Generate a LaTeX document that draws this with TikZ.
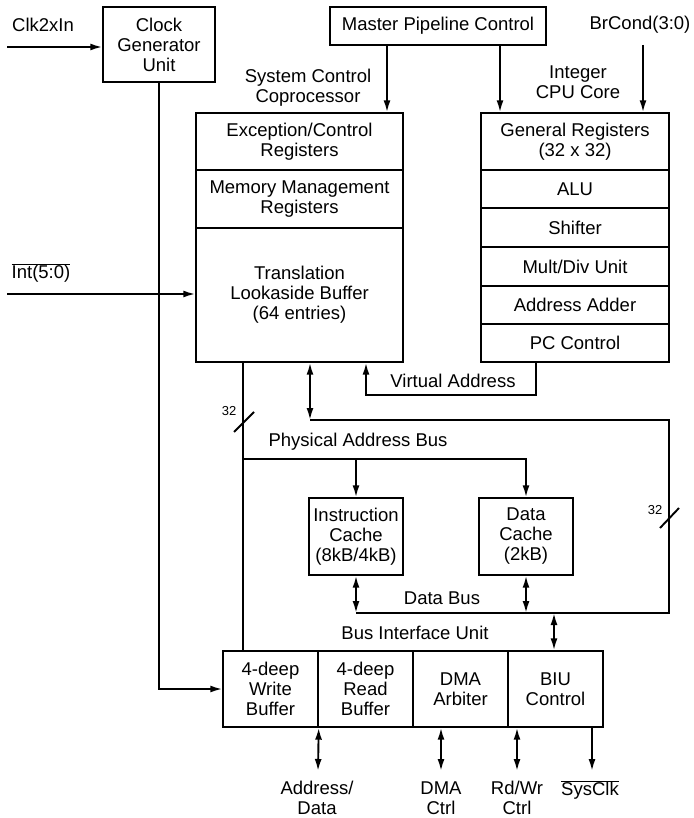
\documentclass[tikz,border=0pt]{standalone}
\usepackage{fontspec}
\setmainfont{Liberation Sans}
\usetikzlibrary{arrows.meta}
\newcommand\diagfont{\fontsize{18.5}{20}\selectfont}
\newcommand\smallfont{\fontsize{13}{14}\selectfont}
\begin{document}
\begin{tikzpicture}[x=1pt,y=-1pt,
  box/.style={draw, line width=1.4pt, inner sep=0pt, align=center, font=\diagfont},
  lbl/.style={align=center, font=\diagfont, inner sep=0pt},
  wire/.style={line width=1.9pt},
  arr/.style={wire, -{Latex[length=12pt,width=7pt]}},
  bidir/.style={wire, {Latex[length=12pt,width=7pt]}-{Latex[length=12pt,width=7pt]}}]
\useasboundingbox (0,0) rectangle (693,818);
% boxes
\node[box, minimum width=112pt, minimum height=75pt] (clk) at (159,44.5) {Clock\\Generator\\Unit};
\node[box, minimum width=216pt, minimum height=38pt] (mpc) at (438,26) {Master Pipeline Control};
% system control coprocessor
\node[box, minimum width=207pt, minimum height=57pt] (exc) at (299.5,141.5) {Exception/Control\\Registers};
\node[box, minimum width=207pt, minimum height=58pt] (mmr) at (299.5,199) {Memory Management\\Registers};
\node[box, minimum width=207pt, minimum height=134pt] (tlb) at (299.5,295) {Translation\\Lookaside Buffer\\(64 entries)};
% integer CPU core
\node[box, minimum width=188pt, minimum height=57pt] (gr) at (575,141.5) {General Registers\\(32 x 32)};
\node[box, minimum width=188pt, minimum height=38pt] (alu) at (575,189) {ALU};
\node[box, minimum width=188pt, minimum height=39pt] (sh) at (575,227.5) {Shifter};
\node[box, minimum width=188pt, minimum height=39pt] (md) at (575,266.5) {Mult/Div Unit};
\node[box, minimum width=188pt, minimum height=38pt] (aa) at (575,305) {Address Adder};
\node[box, minimum width=188pt, minimum height=38pt] (pc) at (575,343) {PC Control};
% caches
\node[box, minimum width=94pt, minimum height=77pt] (ic) at (356,536.5) {Instruction\\Cache\\(8kB/4kB)};
\node[box, minimum width=94pt, minimum height=77pt] (dc) at (526,536.5) {Data\\Cache\\(2kB)};
% bus interface unit
\node[box, minimum width=95pt, minimum height=76pt] (wb) at (270.5,689) {4-deep\\Write\\Buffer};
\node[box, minimum width=95pt, minimum height=76pt] (rb) at (365.5,689) {4-deep\\Read\\Buffer};
\node[box, minimum width=95pt, minimum height=76pt] (dma) at (460.5,689) {DMA\\Arbiter};
\node[box, minimum width=95pt, minimum height=76pt] (biu) at (555.5,689) {BIU\\Control};
% labels
\node[lbl] (lclk) at (43,25) {Clk2xIn};
\node[lbl] (lint) at (41,273) {$\overline{\mbox{Int(5:0)}}$};
\node[lbl] (lbr) at (640,25) {BrCond(3:0)};
\node[lbl] (lscc) at (308,88) {System Control\\Coprocessor};
\node[lbl] (lcpu) at (578,82) {Integer\\CPU Core};
\node[lbl] (lva) at (453,381) {Virtual Address};
\node[lbl] (lpab) at (358,442) {Physical Address Bus};
\node[lbl] (ldb) at (442,598) {Data Bus};
\node[lbl] (lbiu) at (415,633) {Bus Interface Unit};
\node[lbl] (lad) at (317,798) {Address/\\Data};
\node[lbl] (ldma) at (441,798) {DMA\\Ctrl};
\node[lbl] (lrw) at (517,798) {Rd/Wr\\Ctrl};
\node[lbl] (lsc) at (590,790) {$\overline{\mbox{SysClk}}$};
\node[font=\smallfont, inner sep=0pt] (n32a) at (229,411) {32};
\node[font=\smallfont, inner sep=0pt] (n32b) at (655,510) {32};
% coordinates
\coordinate (cin) at (7,47);
\coordinate (iin) at (7,294);
\coordinate (m1) at (387,0);
\coordinate (m2) at (500,0);
\coordinate (bc) at (643,45);
\coordinate (xl) at (243,0);
\coordinate (pab) at (243,459);
\coordinate (vb) at (310,420);
\coordinate (db) at (669,613);
\coordinate (vaR) at (536,395);
\coordinate (vaL) at (366,395);
\coordinate (biux) at (554,0);
\coordinate (ad) at (318,771);
\coordinate (dmae) at (441,771);
\coordinate (rwe) at (517,771);
\coordinate (sce) at (592,771);
% connectors
\draw[arr] (cin) -- (cin -| clk.west);
\draw[arr] (iin) -- (iin -| tlb.west);
\draw[arr] (clk.south) |- (wb.west);
\draw[arr] (mpc.south -| m1) -- (exc.north -| m1);
\draw[arr] (mpc.south -| m2) -- (gr.north -| m2);
\draw[arr] (bc) -- (gr.north -| bc);
\draw[arr] (pc.south -| vaR) -- (vaR) -- (vaL) -- (tlb.south -| vaL);
\draw[wire] (tlb.south -| xl) -- (wb.north -| xl);
\draw[arr] (pab) -| (dc.north);
\draw[arr] (ic.north |- pab) -- (ic.north);
\draw[bidir] (tlb.south -| vb) -- (vb);
\draw[wire] (vb) -| (db) -- (ic.south |- db);
\draw[bidir] (ic.south) -- (ic.south |- db);
\draw[bidir] (dc.south) -- (dc.south |- db);
\draw[bidir] (db -| biux) -- (biu.north -| biux);
\draw[bidir] (wb.south east) -- (ad);
\draw[bidir] (dma.south -| dmae) -- (dmae);
\draw[bidir] (biu.south -| rwe) -- (rwe);
\draw[arr] (biu.south -| sce) -- (sce);
% bus width slashes
\draw[wire] (234,432) -- (254,412);
\draw[wire] (660,528) -- (679,508);
\end{tikzpicture}
\end{document}
